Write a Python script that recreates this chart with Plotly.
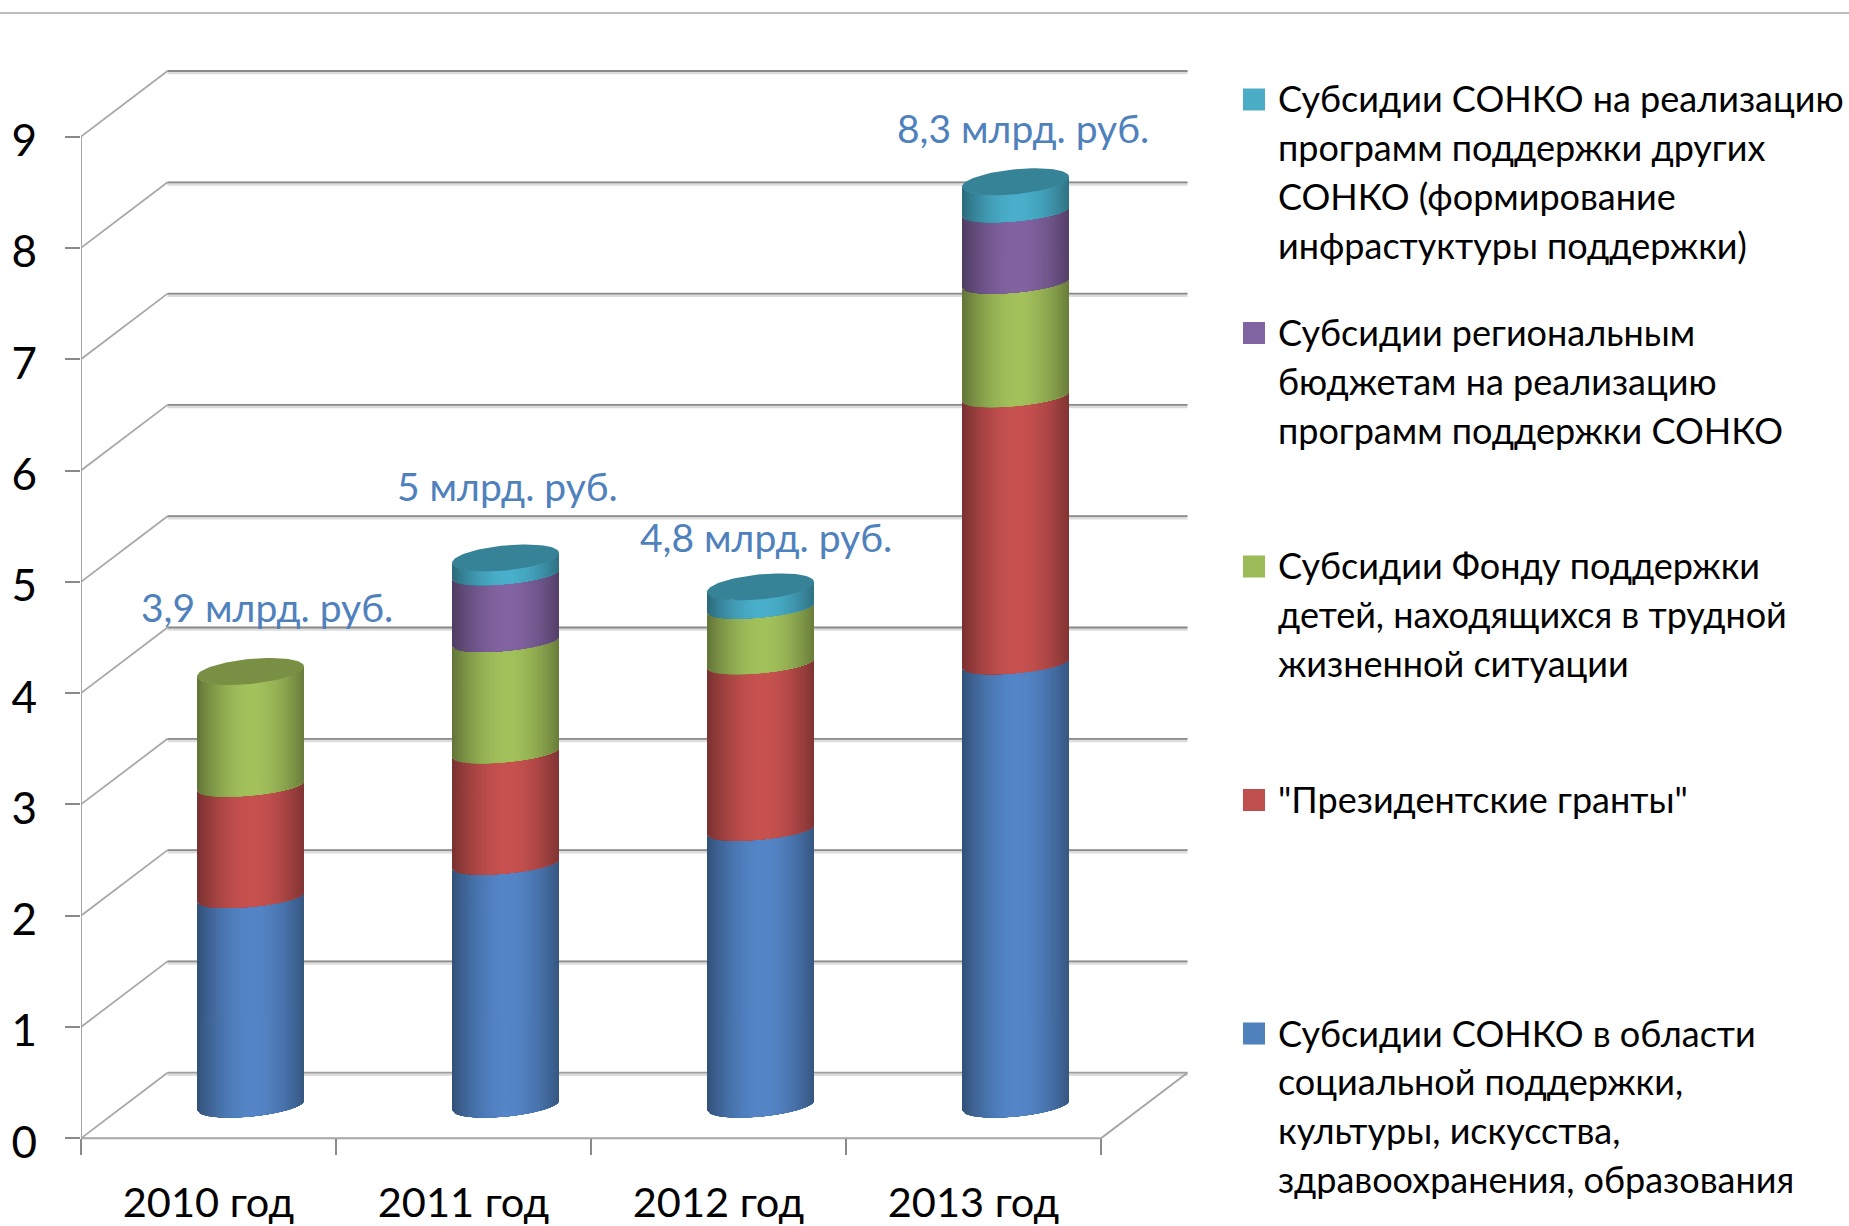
import plotly.graph_objects as go
import numpy as np

# ---- data ----
years = ["2010 год", "2011 год", "2012 год", "2013 год"]
y_ticks = [0, 1, 2, 3, 4, 5, 6, 7, 8, 9]
blue_vals = [1.87, 2.17, 2.475, 3.97]
red_vals = [1.00, 1.00, 1.495, 2.40]
green_vals = [1.03, 1.00, 0.50, 1.02]
purple_vals = [0.0, 0.60, 0.0, 0.64]
teal_vals = [0.0, 0.15, 0.19, 0.27]
total_labels = ["3,9 млрд. руб.", "5 млрд. руб.", "4,8 млрд. руб.", "8,3 млрд. руб."]

legend_teal = ["Субсидии СОНКО на реализацию", "программ поддержки других",
               "СОНКО (формирование", "инфрастуктуры поддержки)"]
legend_purple = ["Субсидии региональным", "бюджетам на реализацию",
                 "программ поддержки СОНКО"]
legend_green = ["Субсидии Фонду поддержки", "детей, находящихся в трудной",
                "жизненной ситуации"]
legend_red = ['"Президентские гранты"']
legend_blue = ["Субсидии СОНКО в области", "социальной поддержки,",
               "культуры, искусства,", "здравоохранения, образования"]

# ---- style / layout constants (pixels of the page) ----
W, H = 1849, 1226
FONT = "Lato"
AX_L, AX_R, Y0_PX, UNIT_Y = 81.0, 1101.0, 1138.3, 111.3
UNIT_X = (AX_R - AX_L) / 4
DEPTH_X, DEPTH_Y = 86.5, 65.6
TOP_PX = 50.0
BELOW_PX = 30.0
RIGHT_PX = 1192.0
GRID = "#8a8a8a"
GRID_DIAG = "#a8a8a8"
GRID_SOFT = "#dcdcdc"
CYL_A, CYL_K, CYL_DX = 53.5, 5.0, 42.0
B_TOP, B_INNER, B_BOTTOM = 12.5, 9.5, 11.0
Y_LABEL_SHIFT_PX = 4.0

series = [
    (blue_vals, (84, 134, 200), "#4F81BD", legend_blue),
    (red_vals, (200, 82, 80), "#C0504D", legend_red),
    (green_vals, (163, 194, 92), "#9BBB59", legend_green),
    (purple_vals, (131, 100, 162), "#8064A2", legend_purple),
    (teal_vals, (74, 176, 204), "#4BACC6", legend_teal),
]

dx = DEPTH_X / UNIT_X
dy = DEPTH_Y / UNIT_Y
x_front_l, x_front_r = -0.5, 3.5
a = CYL_A / UNIT_X
k = CYL_K / UNIT_Y
base = dy / 2
col_dx = CYL_DX / UNIT_X

fig = go.Figure()

def line(xs, ys, color=GRID, width=1.8):
    fig.add_trace(go.Scatter(x=xs, y=ys, mode="lines", hoverinfo="skip", showlegend=False,
                             line=dict(color=color, width=width)))

# walls: soft shadow under back lines, then the lines
for v in y_ticks:
    line([x_front_l + dx, x_front_r + dx], [v + dy - 0.012, v + dy - 0.012], GRID_SOFT, 4)
for v in y_ticks:
    line([x_front_l, x_front_l + dx], [v, v + dy], GRID_DIAG)
    line([x_front_l + dx, x_front_r + dx], [v + dy, v + dy], "#a0a0a0" if v == 0 else GRID)
line([x_front_l, x_front_l], [0, max(y_ticks)], "#a6a6a6", 2)
line([x_front_l, x_front_r, x_front_r + dx], [0, 0, dy], "#a6a6a6", 2)

# cylinders: each strip runs on to the right edge and the next one paints over it
N = 40
edges = np.linspace(-1, 1, N + 1)

def shade(rgb, u):
    f = 1 - 0.38 * abs(u - 0.03) ** 1.8
    return "rgb(%d,%d,%d)" % tuple(int(c * f) for c in rgb)

def arc(cx, level, us, b_px):
    return cx + a * us, level + k * us - (b_px / UNIT_Y) * np.sqrt(np.clip(1 - us ** 2, 0, 1))

tops = [max(m for m, s in enumerate(series) if s[0][i] > 0) for i in range(len(years))]

for s_idx, (vals, rgb, _, _) in enumerate(series):
    for j in range(N):
        u0 = edges[j]
        us = np.linspace(u0, 1, 24)
        xs, ys = [], []
        for i, v in enumerate(vals):
            if v <= 0:
                continue
            bottom = base + sum(series[m][0][i] for m in range(s_idx))
            cx = i + col_dx
            x1, y1 = arc(cx, bottom, us, B_BOTTOM if s_idx == 0 else B_INNER)
            x2, y2 = arc(cx, bottom + v, us[::-1], B_TOP if s_idx == tops[i] else B_INNER)
            xs += list(x1) + list(x2) + [x1[0], None]
            ys += list(y1) + list(y2) + [y1[0], None]
        if not xs:
            continue
        c = shade(rgb, u0 + 1 / N)
        fig.add_trace(go.Scatter(x=xs, y=ys, mode="lines", fill="toself", fillcolor=c,
                                 line=dict(width=0), hoverinfo="skip",
                                 showlegend=False))

# cylinder caps
ts = np.linspace(0, 2 * np.pi, 81)
for i in range(len(years)):
    vals_here = [s[0][i] for s in series]
    rgb = series[tops[i]][1]
    cap = "rgb(%d,%d,%d)" % tuple(int(c * 0.74) for c in rgb)
    lvl = base + sum(vals_here)
    cx = i + col_dx
    fig.add_trace(go.Scatter(x=cx + a * np.cos(ts),
                             y=lvl + k * np.cos(ts) + (B_TOP / UNIT_Y) * np.sin(ts),
                             mode="lines", fill="toself", fillcolor=cap,
                             line=dict(width=0), hoverinfo="skip", showlegend=False))

def px(x):
    return x / W

def py(y):
    return 1 - y / H

# total labels
label_center_x = [267, 507, 766, 1023]
label_mid_y = [607, 486, 537, 128]
for t, x, y in zip(total_labels, label_center_x, label_mid_y):
    fig.add_annotation(text=t, x=px(x), y=py(y), xref="paper", yref="paper",
                       xanchor="center", yanchor="middle", showarrow=False,
                       font=dict(family=FONT, size=39, color="#4F81BD"))

# legend
LEG_SQ_X0, LEG_SQ_X1, LEG_TXT_X = 1243, 1265, 1276
LEG_FIRST_Y, LEG_STEP, LEG_LINE = 98.5, 233.5, 48.8
for pos, s_idx in enumerate([4, 3, 2, 1, 0]):
    _, _, swatch, lines = series[s_idx]
    yc = LEG_FIRST_Y + pos * LEG_STEP
    fig.add_shape(type="rect", xref="paper", yref="paper", x0=px(LEG_SQ_X0), x1=px(LEG_SQ_X1),
                  y0=py(yc - 10), y1=py(yc + 12), fillcolor=swatch, line_width=0)
    for n, t in enumerate(lines):
        fig.add_annotation(text=t, x=px(LEG_TXT_X), y=py(yc + n * LEG_LINE), xref="paper",
                           yref="paper", xanchor="left", yanchor="middle", showarrow=False,
                           font=dict(family=FONT, size=36, color="#000000"))

# rule at the top of the page
fig.add_shape(type="line", xref="paper", yref="paper", x0=0, x1=1, y0=py(13), y1=py(13),
              line=dict(color="#a6a6a6", width=1.6))

fig.update_layout(
    width=W, height=H, margin=dict(l=0, r=0, t=0, b=0, pad=0),
    paper_bgcolor="white", plot_bgcolor="white", showlegend=False,
    xaxis=dict(domain=[AX_L / W, RIGHT_PX / W], automargin=False,
               anchor="free", position=1 - Y0_PX / H,
               range=[-0.5, -0.5 + (RIGHT_PX - AX_L) / UNIT_X],
               tickmode="array", tickvals=[0, 1, 2, 3], ticktext=years,
               ticks="", showgrid=False, zeroline=False, showline=False,
               tickfont=dict(family=FONT, size=41.5, color="#000000"),
               ticklabelstandoff=36,
               minor=dict(tick0=-0.5, dtick=1, ticks="outside", ticklen=16,
                          tickcolor="#8a8a8a", tickwidth=1.6, showgrid=False)),
    yaxis=dict(domain=[1 - (Y0_PX + BELOW_PX) / H, 1 - TOP_PX / H], automargin=False,
               range=[-BELOW_PX / UNIT_Y, (Y0_PX - TOP_PX) / UNIT_Y],
               tickmode="array",
               tickvals=[v - Y_LABEL_SHIFT_PX / UNIT_Y for v in y_ticks],
               ticktext=[str(v) for v in y_ticks],
               ticks="", showgrid=False, zeroline=False, showline=False,
               tickfont=dict(family=FONT, size=44, color="#000000"),
               ticklabelstandoff=43,
               minor=dict(tick0=0, dtick=1, ticks="outside", ticklen=15,
                          tickcolor="#8a8a8a", tickwidth=1.6, showgrid=False)),
)

fig.write_html("out.html", config={"displayModeBar": False},
               post_script="document.body.style.margin='0';document.documentElement.style.overflow='hidden';")
